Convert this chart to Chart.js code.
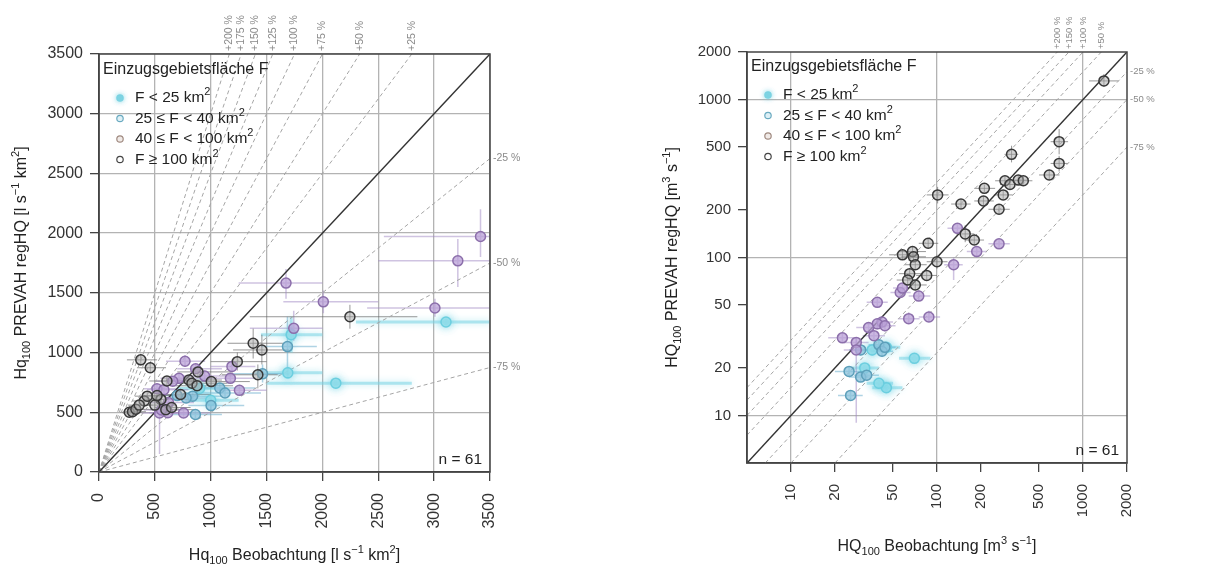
<!DOCTYPE html>
<html>
<head>
<meta charset="utf-8">
<script src="https://cdn.jsdelivr.net/npm/chart.js@4.4.0/dist/chart.umd.min.js"></script>
<style>
  body { margin: 0; background: #fff; width: 1214px; height: 567px; overflow: hidden; position: relative; }
  canvas { position: absolute; top: 0; }
  #cl { left: 0; }
  #cr { left: 600px; }
</style>
</head>
<body>
<canvas id="cl" width="600" height="567"></canvas>
<canvas id="cr" width="614" height="567"></canvas>
<script>
const FONT = '"Liberation Sans", Arial, sans-serif';

// catchment area classes (legend order)
const classLabels = [
  [['F < 25 km'], ['2', 'sup']],
  [['25 ≤ F < 40 km'], ['2', 'sup']],
  [['40 ≤ F < 100 km'], ['2', 'sup']],
  [['F ≥ 100 km'], ['2', 'sup']]
];
const legendTitle = 'Einzugsgebietsfläche F';
const nLabel = 'n = 61';

// tick labels
const leftTicks = [0, 500, 1000, 1500, 2000, 2500, 3000, 3500];
const rightTicks = [10, 20, 50, 100, 200, 500, 1000, 2000];
const rightGrid = [10, 100, 1000];

// deviation lines in %
const leftPlus = [25, 50, 75, 100, 125, 150, 175, 200];
const rightPlus = [50, 100, 150, 200];
const minusLines = [25, 50, 75];

// rows: [obs, regHQ, obsLow, obsHigh, regLow, regHigh]
// left panel: specific discharge Hq100 [l s-1 km2]
const leftF0 = [
  [2120, 744, 1500, 2800, 720, 770], [3106, 1256, 2300, 3500, 1230, 1280],
  [1720, 1150, 1450, 2000, 1000, 1300], [1690, 830, 1400, 2000, 780, 880],
  [900, 700, 700, 1150, 670, 730], [1000, 600, 800, 1250, 570, 630]
];
const leftF25 = [
  [838, 635, 650, 1100, 600, 670], [863, 481, 650, 1100, 450, 510],
  [1003, 556, 800, 1300, 520, 590], [1081, 703, 850, 1400, 660, 740],
  [1128, 661, 900, 1450, 620, 700], [1464, 822, 1150, 1700, 750, 900],
  [1687, 1050, 1450, 1950, 800, 1300], [780, 620, 600, 1000, 590, 650],
  [700, 640, 550, 900, 610, 670]
];
const leftF40 = [
  [770, 927, 600, 950, 880, 980], [865, 865, 700, 1100, 820, 910],
  [946, 803, 750, 1200, 760, 850], [1190, 884, 1000, 1400, 840, 940],
  [1176, 784, 950, 1400, 740, 830], [1257, 684, 1050, 1500, 640, 730],
  [757, 494, 600, 1000, 460, 530], [716, 784, 550, 950, 740, 830],
  [519, 697, 400, 700, 660, 740], [581, 689, 430, 800, 640, 740],
  [622, 581, 450, 850, 540, 620], [616, 497, 450, 800, 460, 540],
  [542, 494, 380, 700, 150, 720], [1743, 1203, 1350, 2000, 1100, 1350],
  [2008, 1425, 1650, 2500, 1330, 1520], [1674, 1582, 1250, 2000, 1450, 1700],
  [3007, 1373, 2400, 3500, 1300, 1450], [3415, 1972, 2550, 3500, 1800, 2200],
  [3212, 1768, 2500, 3500, 1550, 1950], [660, 760, 500, 850, 720, 800],
  [560, 520, 400, 750, 490, 560]
];
const leftF100 = [
  [374, 939, 250, 520, 890, 990], [459, 873, 340, 600, 830, 920],
  [271, 500, 190, 380, 470, 530], [300, 505, 220, 420, 475, 540],
  [330, 525, 250, 450, 495, 560], [405, 595, 300, 560, 560, 630],
  [432, 635, 320, 600, 600, 670], [554, 608, 400, 800, 570, 650],
  [608, 762, 450, 900, 720, 800], [598, 522, 450, 850, 490, 560],
  [730, 649, 550, 1000, 610, 690], [805, 770, 600, 1100, 730, 810],
  [832, 743, 650, 1150, 700, 790], [878, 722, 650, 1200, 680, 760],
  [886, 838, 700, 1200, 800, 880], [1005, 757, 800, 1350, 710, 800],
  [1238, 924, 1000, 1500, 850, 1000], [1422, 814, 1100, 1600, 700, 900],
  [1380, 1078, 1150, 1650, 950, 1200], [1458, 1022, 1200, 1700, 900, 1150],
  [2246, 1300, 1350, 2850, 1200, 1400], [500, 560, 380, 680, 520, 600],
  [650, 540, 500, 820, 500, 580], [520, 640, 400, 700, 600, 680],
  [360, 560, 260, 480, 530, 590]
];

// right panel: HQ100 [m3 s-1]
const rightF0 = [
  [70, 23, 55, 90, 21.5, 24.5], [45, 15, 36, 58, 14, 16],
  [36, 26, 29, 45, 24, 28], [45, 27, 37, 56, 25, 29],
  [32, 20, 26, 40, 19, 21], [40, 16, 33, 50, 15, 17]
];
const rightF25 = [
  [40, 28, 34, 48, 26, 30], [42, 25.5, 35, 50, 23.5, 27.5],
  [25, 19, 20, 31, 17.8, 20.2], [30, 17.5, 25, 36, 16.4, 18.6],
  [33, 18, 27, 40, 16.9, 19.2], [25.6, 13.4, 21, 31, 12.6, 14.3],
  [44, 27, 37, 52, 25, 29], [30, 26, 25, 36, 24, 28]
];
const rightF40 = [
  [138, 153, 118, 160, 143, 165], [266, 122, 225, 315, 114, 130],
  [187, 109, 160, 220, 100, 118], [130, 90, 112, 150, 72, 100],
  [75, 57, 64, 90, 53, 62], [88, 42, 75, 105, 39, 46],
  [64, 41, 54, 76, 38, 45], [39, 52, 33, 46, 48, 56],
  [56, 60, 48, 66, 56, 64], [58, 64, 50, 68, 60, 69],
  [42, 39, 36, 50, 36, 42], [39, 38, 33, 46, 35, 41],
  [34, 36, 28, 40, 33, 39], [37, 32, 31, 44, 30, 35],
  [22.5, 31, 18, 28, 29, 33], [28, 29, 23, 34, 27, 31],
  [28, 26, 23, 34, 9, 31], [44, 37, 37, 52, 34, 40]
];
const rightF100 = [
  [1390, 1312, 1100, 1750, 1200, 1450], [686, 541, 600, 790, 450, 650],
  [686, 394, 600, 790, 350, 440], [587, 333, 500, 690, 310, 360],
  [324, 450, 290, 360, 400, 510], [292, 306, 250, 340, 290, 325],
  [316, 290, 270, 370, 270, 310], [360, 309, 310, 420, 290, 330],
  [390, 306, 340, 450, 290, 325], [211, 274, 180, 250, 260, 290],
  [208, 228, 180, 245, 215, 245], [284, 249, 245, 330, 235, 265],
  [266, 202, 225, 315, 190, 215], [146, 218, 125, 170, 205, 232],
  [101, 249, 85, 120, 220, 280], [156, 141, 135, 180, 125, 160],
  [180, 129, 155, 210, 120, 140], [87, 123, 75, 102, 115, 132],
  [68, 109, 55, 84, 100, 118], [58, 104, 47, 72, 97, 112],
  [69, 101, 57, 84, 94, 109], [71, 90, 60, 85, 84, 97],
  [65, 79, 55, 78, 73, 86], [63, 72, 53, 75, 67, 78],
  [71, 67, 60, 85, 62, 72], [85, 77, 72, 100, 72, 83],
  [100, 94, 85, 118, 85, 104]
];

const groupStyle = [
  { stroke: 'rgba(105,205,222,0.95)', fill: 'rgba(150,222,234,0.85)', err: 'rgba(120,212,228,0.55)', errW: 3, glow: true },
  { stroke: '#5d9fba', fill: 'rgba(140,195,220,0.75)', err: 'rgba(110,175,205,0.55)', errW: 1.5 },
  { stroke: '#8c6fab', fill: 'rgba(185,160,215,0.75)', err: 'rgba(160,135,195,0.5)', errW: 1.5 },
  { stroke: '#383838', fill: 'rgba(165,165,165,0.5)', err: 'rgba(95,95,95,0.65)', errW: 1 }
];
const legendMarker = [
  { stroke: 'rgba(120,210,225,0.9)', fill: 'rgba(120,210,225,0.9)', glow: true },
  { stroke: '#6aaac0', fill: 'rgba(200,230,240,0.6)' },
  { stroke: '#a08a80', fill: 'rgba(230,220,215,0.6)' },
  { stroke: '#444', fill: 'rgba(255,255,255,0.6)' }
];

function rich(ctx, parts, x, y, size, align, rot) {
  ctx.save();
  ctx.translate(x, y);
  if (rot) ctx.rotate(rot);
  const small = Math.round(size * 0.7);
  let w = 0;
  parts.forEach(p => { ctx.font = (p[1] ? small : size) + 'px ' + FONT; w += ctx.measureText(p[0]).width; });
  let cx = align === 'center' ? -w / 2 : align === 'right' ? -w : 0;
  ctx.textBaseline = 'middle';
  ctx.textAlign = 'left';
  ctx.fillStyle = '#222';
  parts.forEach(p => {
    ctx.font = (p[1] ? small : size) + 'px ' + FONT;
    const dy = p[1] === 'sub' ? size * 0.32 : p[1] === 'sup' ? -size * 0.36 : 0;
    ctx.fillText(p[0], cx, dy);
    cx += ctx.measureText(p[0]).width;
  });
  ctx.restore();
}

const errorBars = {
  id: 'errorBars',
  beforeDatasetsDraw(chart) {
    const { ctx, chartArea: a, scales: { x, y } } = chart;
    ctx.save();
    ctx.beginPath();
    ctx.rect(a.left, a.top, a.width, a.height);
    ctx.clip();
    chart.data.datasets.forEach(ds => {
      if (!ds.rows) return;
      const st = ds.st;
      ctx.strokeStyle = st.err;
      ctx.lineWidth = st.errW;
      ctx.shadowColor = 'rgba(120,215,230,0.9)';
      ctx.shadowBlur = st.glow ? 6 : 0;
      ds.rows.forEach(r => {
        const px = x.getPixelForValue(r[0]), py = y.getPixelForValue(r[1]);
        ctx.beginPath();
        ctx.moveTo(x.getPixelForValue(r[2]), py);
        ctx.lineTo(x.getPixelForValue(r[3]), py);
        ctx.moveTo(px, y.getPixelForValue(r[4]));
        ctx.lineTo(px, y.getPixelForValue(r[5]));
        ctx.stroke();
      });
    });
    ctx.restore();
  },
  beforeDatasetDraw(chart, args) {
    const ds = chart.data.datasets[args.index];
    if (ds.st && ds.st.glow) {
      chart.ctx.save();
      chart.ctx.shadowColor = 'rgba(110,210,228,0.9)';
      chart.ctx.shadowBlur = 8;
    }
  },
  afterDatasetDraw(chart, args) {
    const ds = chart.data.datasets[args.index];
    if (ds.st && ds.st.glow) chart.ctx.restore();
  }
};

function decor(cfg) {
  return {
    id: 'decor',
    afterDraw(chart) {
      const { ctx, chartArea: a, scales: { x, y } } = chart;
      ctx.save();
      ctx.strokeStyle = '#444';
      ctx.lineWidth = 1.5;
      ctx.strokeRect(a.left, a.top, a.width, a.height);

      // deviation labels
      ctx.fillStyle = '#8a8a8a';
      ctx.font = cfg.labSize + 'px ' + FONT;
      ctx.textBaseline = 'middle';
      cfg.plus.forEach(p => {
        const px = x.getPixelForValue(cfg.max / (1 + p / 100));
        ctx.save();
        ctx.translate(px, a.top - 3);
        ctx.rotate(-Math.PI / 2);
        ctx.textAlign = 'left';
        ctx.fillText('+' + p + ' %', 0, 0);
        ctx.restore();
      });
      minusLines.forEach(p => {
        const py = y.getPixelForValue(cfg.max * (1 - p / 100));
        ctx.textAlign = 'left';
        ctx.fillText('-' + p + ' %', a.right + 3, py);
      });

      // legend
      rich(ctx, [[legendTitle]], a.left + 4, a.top + cfg.legTop, 16, 'left');
      classLabels.forEach((parts, i) => {
        const ly = a.top + cfg.legTop + 28 + i * 20.5;
        const m = legendMarker[i];
        ctx.save();
        if (m.glow) { ctx.shadowColor = m.stroke; ctx.shadowBlur = 5; }
        ctx.beginPath();
        ctx.arc(a.left + 21, ly, 3.2, 0, Math.PI * 2);
        ctx.fillStyle = m.fill;
        ctx.fill();
        ctx.strokeStyle = m.stroke;
        ctx.lineWidth = 1.2;
        ctx.stroke();
        ctx.restore();
        rich(ctx, parts, a.left + 36, ly, 15.5, 'left');
      });

      // n label and axis titles
      rich(ctx, [[nLabel]], a.right - 8, a.bottom - 12, 15.5, 'right');
      rich(ctx, cfg.yTitle, a.left - cfg.yTitleOff, (a.top + a.bottom) / 2, 16, 'center', -Math.PI / 2);
      rich(ctx, cfg.xTitle, (a.left + a.right) / 2, a.bottom + 84, 16, 'center');
      ctx.restore();
    }
  };
}

function refLines(lo, hi, plus) {
  const sets = [{
    data: [{ x: lo, y: lo }, { x: hi, y: hi }],
    showLine: true, pointRadius: 0, borderColor: '#333', borderWidth: 1.5, order: 10
  }];
  plus.forEach(p => {
    const f = 1 + p / 100;
    sets.push({
      data: [{ x: lo, y: lo * f }, { x: hi / f, y: hi }],
      showLine: true, pointRadius: 0, borderColor: '#a5a5a5', borderWidth: 1, borderDash: [4, 3], order: 11
    });
  });
  minusLines.forEach(p => {
    const f = 1 - p / 100;
    sets.push({
      data: [{ x: lo / f, y: lo }, { x: hi, y: hi * f }],
      showLine: true, pointRadius: 0, borderColor: '#a5a5a5', borderWidth: 1, borderDash: [4, 3], order: 11
    });
  });
  return sets;
}

function groupSets(groups) {
  return groups.map((rows, i) => ({
    data: rows.map(r => ({ x: r[0], y: r[1] })),
    rows: rows,
    st: groupStyle[i],
    pointRadius: 5,
    pointBorderWidth: 1.5,
    borderColor: groupStyle[i].stroke,
    backgroundColor: groupStyle[i].fill,
    order: 4 - i
  }));
}

function axis(cfg, isX) {
  return {
    type: cfg.type,
    min: cfg.min,
    max: cfg.max,
    afterBuildTicks: s => { s.ticks = cfg.ticks.map(v => ({ value: v })); },
    afterFit: s => { if (isX) s.height = cfg.xh; else s.width = cfg.yw; },
    ticks: {
      font: { family: FONT, size: cfg.tickSize },
      color: '#333',
      padding: isX ? 12 : 7,
      autoSkip: false,
      minRotation: isX ? 90 : 0,
      maxRotation: isX ? 90 : 0,
      callback: v => String(v)
    },
    grid: {
      color: c => (c.tick && cfg.grid.includes(c.tick.value)) ? '#b3b3b3' : 'rgba(0,0,0,0)',
      lineWidth: 1.3,
      tickLength: 9,
      tickColor: '#444'
    },
    border: { color: '#444', width: 1.5 }
  };
}

function makeChart(el, groups, cfg) {
  return new Chart(document.getElementById(el), {
    type: 'scatter',
    data: { datasets: refLines(cfg.min, cfg.max, cfg.plus).concat(groupSets(groups)) },
    options: {
      responsive: false,
      animation: false,
      layout: { padding: cfg.pad },
      plugins: { legend: { display: false }, tooltip: { enabled: false } },
      scales: { x: axis(cfg, true), y: axis(cfg, false) }
    },
    plugins: [errorBars, decor(cfg)]
  });
}

makeChart('cl', [leftF0, leftF25, leftF40, leftF100], {
  type: 'linear', min: 0, max: 3500, ticks: leftTicks, grid: leftTicks, plus: leftPlus,
  pad: { left: 0, top: 54, right: 110, bottom: 0 }, yw: 99, xh: 95, tickSize: 16, labSize: 10.5,
  legTop: 16, yTitleOff: 77,
  yTitle: [['Hq'], ['100', 'sub'], [' PREVAH regHQ [l s'], ['−1', 'sup'], [' km'], ['2', 'sup'], [']']],
  xTitle: [['Hq'], ['100', 'sub'], [' Beobachtung [l s'], ['−1', 'sup'], [' km'], ['2', 'sup'], [']']]
});

makeChart('cr', [rightF0, rightF25, rightF40, rightF100], {
  type: 'logarithmic', min: 5, max: 2000, ticks: rightTicks, grid: rightGrid, plus: rightPlus,
  pad: { left: 0, top: 52, right: 87, bottom: 0 }, yw: 147, xh: 104, tickSize: 15, labSize: 9.5,
  legTop: 15, yTitleOff: 74,
  yTitle: [['HQ'], ['100', 'sub'], [' PREVAH regHQ [m'], ['3', 'sup'], [' s'], ['−1', 'sup'], [']']],
  xTitle: [['HQ'], ['100', 'sub'], [' Beobachtung [m'], ['3', 'sup'], [' s'], ['−1', 'sup'], [']']]
});
</script>
</body>
</html>
